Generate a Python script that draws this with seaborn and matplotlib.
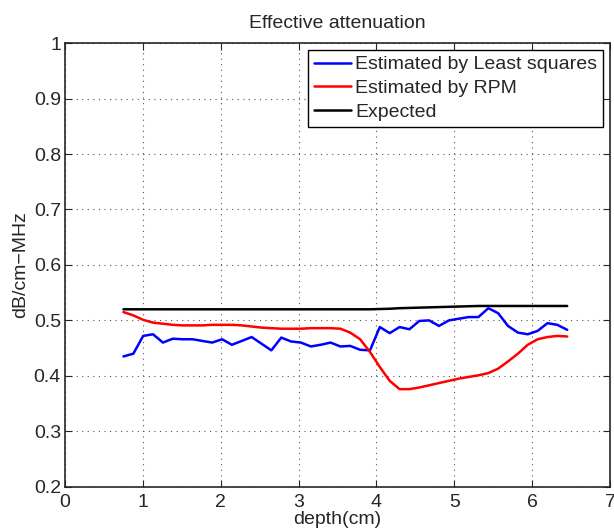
import numpy as np
import pandas as pd
import seaborn as sns
from matplotlib import pyplot as plt

# depth grid (cm), 46 samples from 0.75 to 6.45
depth = [0.75, 0.877, 1.003, 1.13, 1.257, 1.383, 1.51, 1.637, 1.763, 1.89,
         2.017, 2.143, 2.27, 2.397, 2.523, 2.65, 2.777, 2.903, 3.03, 3.157,
         3.283, 3.41, 3.537, 3.663, 3.79, 3.917, 4.043, 4.17, 4.297, 4.423,
         4.55, 4.677, 4.803, 4.93, 5.057, 5.183, 5.31, 5.437, 5.563, 5.69,
         5.817, 5.943, 6.07, 6.197, 6.323, 6.45]

least_squares = [0.435, 0.440, 0.472, 0.475, 0.460, 0.467, 0.466, 0.466, 0.463, 0.460,
                 0.466, 0.456, 0.463, 0.470, 0.458, 0.446, 0.469, 0.462, 0.460, 0.453,
                 0.456, 0.460, 0.453, 0.454, 0.447, 0.446, 0.488, 0.477, 0.488, 0.484,
                 0.499, 0.500, 0.490, 0.500, 0.503, 0.506, 0.506, 0.522, 0.513, 0.490,
                 0.478, 0.475, 0.481, 0.495, 0.492, 0.483]

rpm = [0.515, 0.509, 0.501, 0.496, 0.494, 0.492, 0.491, 0.491, 0.491, 0.492,
       0.492, 0.492, 0.491, 0.489, 0.487, 0.486, 0.485, 0.485, 0.485, 0.486,
       0.486, 0.486, 0.485, 0.478, 0.466, 0.443, 0.416, 0.391, 0.376, 0.376,
       0.379, 0.383, 0.387, 0.391, 0.395, 0.398, 0.401, 0.405, 0.413, 0.426,
       0.440, 0.456, 0.466, 0.470, 0.472, 0.471]

expected = [0.520] * 26 + [0.5205, 0.521, 0.522, 0.5225, 0.523, 0.5235, 0.524,
                           0.5245, 0.525, 0.5255] + [0.526] * 10

labels = ["Estimated by Least squares", "Estimated by RPM", "Expected"]
colors = ["#0000ff", "#ff0000", "#000000"]

df = pd.DataFrame({
    "depth": depth * 3,
    "value": least_squares + rpm + expected,
    "series": [labels[0]] * len(depth) + [labels[1]] * len(depth) + [labels[2]] * len(depth),
})

sns.set_style("ticks")
plt.rcParams["font.family"] = ["Liberation Sans", "DejaVu Sans"]

fig = plt.figure(figsize=(6.14, 5.32), dpi=100)
ax = fig.add_axes([0.106, 0.085, 0.8875, 0.834])

sns.lineplot(data=df, x="depth", y="value", hue="series", palette=colors,
             linewidth=1.8, ax=ax)

ax.set_xlim(0, 7)
ax.set_ylim(0.2, 1)
ax.set_xticks(range(0, 8))
ax.set_yticks(np.arange(0.2, 1.01, 0.1))
ax.set_yticklabels(["0.2", "0.3", "0.4", "0.5", "0.6", "0.7", "0.8", "0.9", "1"])
ax.grid(True, linestyle=(0, (1, 4)), color="#555555", linewidth=0.8)
ax.tick_params(direction="in", top=True, right=True, labelsize=14, length=5)
ax.tick_params(axis="x", pad=5)
ax.tick_params(axis="y", pad=3)
for s in ax.spines.values():
    s.set_linewidth(1.2)
    s.set_visible(True)

ax.set_xlabel("depth(cm)", fontsize=14, labelpad=0)
ax.set_ylabel("dB/cm\u2212MHz", fontsize=14, labelpad=3)
ax.set_title("Effective attenuation", fontsize=14, pad=11)

leg = ax.legend(loc="upper right", fontsize=14, frameon=True, fancybox=False,
                edgecolor="black", framealpha=1, borderpad=0.3, labelspacing=0.32,
                handlelength=1.9, handletextpad=0.25, borderaxespad=0.35)
leg.get_frame().set_linewidth(1.0)

fig.savefig("out.png", dpi=100)
